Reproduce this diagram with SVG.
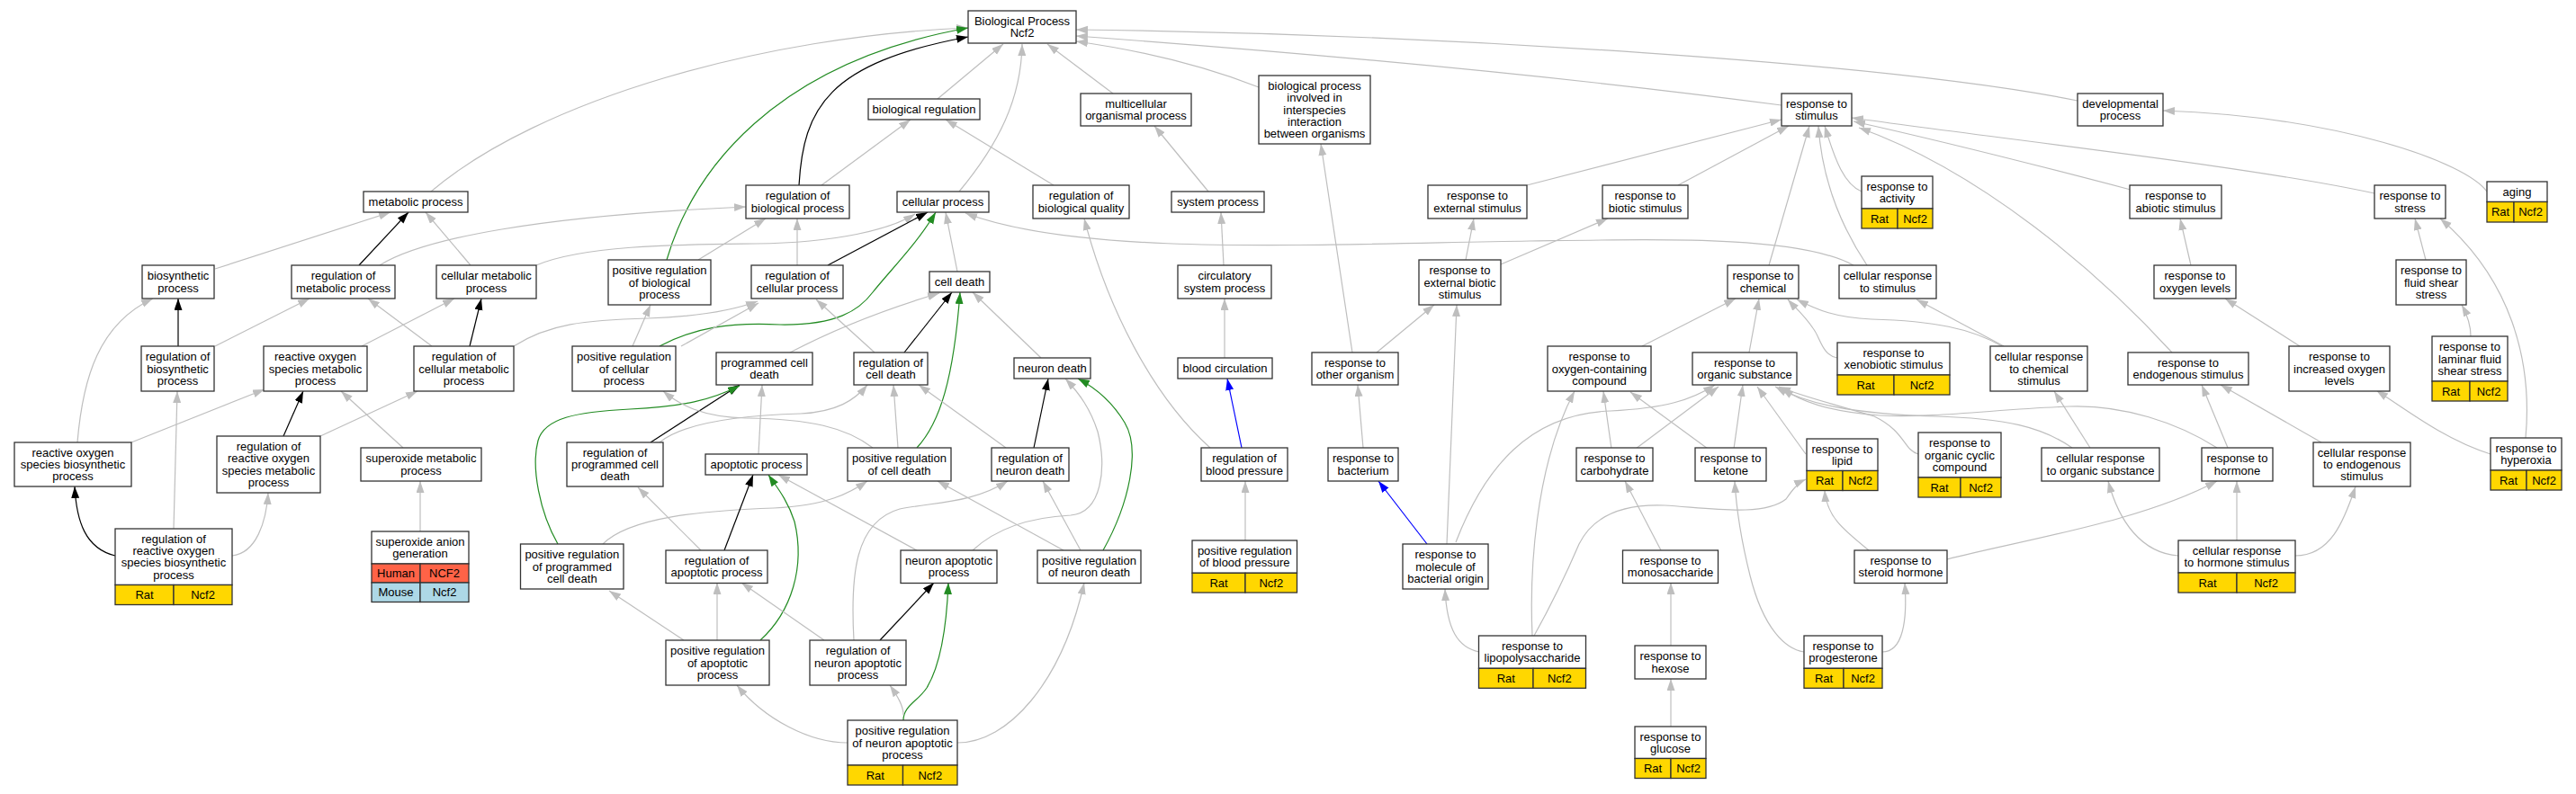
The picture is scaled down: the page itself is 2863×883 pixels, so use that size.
<svg xmlns="http://www.w3.org/2000/svg" width="2863" height="883" viewBox="0 0 2863 883">
<style>
.n rect{fill:#fff;stroke:#333;stroke-width:1.3}
.n rect.y{fill:#ffd700}
.n rect.h{fill:#ff6347}
.n rect.m{fill:#add8e6}
text{font-family:"Liberation Sans",Arial,sans-serif;font-size:13px;text-anchor:middle;fill:#000}
.e path{fill:none;stroke-width:1.2}
.e .g{stroke:#bebebe;marker-end:url(#ag)}
.e .k{stroke:#000;marker-end:url(#ak)}
.e .v{stroke:#228b22;marker-end:url(#av)}
.e .b{stroke:#0000ff;marker-end:url(#ab)}
</style>
<defs>
<marker id="ag" markerUnits="userSpaceOnUse" markerWidth="14" markerHeight="10" refX="13" refY="4.5" orient="auto"><path d="M0,0 L13,4.5 L0,9 z" fill="#bebebe"/></marker>
<marker id="ak" markerUnits="userSpaceOnUse" markerWidth="14" markerHeight="10" refX="13" refY="4.5" orient="auto"><path d="M0,0 L13,4.5 L0,9 z" fill="#000"/></marker>
<marker id="av" markerUnits="userSpaceOnUse" markerWidth="14" markerHeight="10" refX="13" refY="4.5" orient="auto"><path d="M0,0 L13,4.5 L0,9 z" fill="#228b22"/></marker>
<marker id="ab" markerUnits="userSpaceOnUse" markerWidth="14" markerHeight="10" refX="13" refY="4.5" orient="auto"><path d="M0,0 L13,4.5 L0,9 z" fill="#0000ff"/></marker>
</defs>
<rect width="2863" height="883" fill="#fff"/>
<g id="edges" class="e">
<path class="g" d="M479,213 C600,110 850,40 1076,31"/>
<path class="v" d="M741,289 C770,190 860,70 1076,31"/>
<path class="k" d="M888,206 C893,120 920,70 1076,41"/>
<path class="g" d="M1042,110 L1115,49"/>
<path class="g" d="M1066,213 C1110,160 1135,110 1136,49"/>
<path class="g" d="M1237,104 L1164,49"/>
<path class="g" d="M1399,97 C1330,70 1260,55 1196,46"/>
<path class="g" d="M2309,112 C2100,70 1600,38 1196,33"/>
<path class="g" d="M1980,117 C1700,80 1400,55 1196,40"/>
<path class="g" d="M913,206 L1012,133"/>
<path class="g" d="M1171,206 L1051,133"/>
<path class="g" d="M1343,213 L1283,140"/>
<path class="g" d="M1360,295 L1357,236"/>
<path class="g" d="M1361,398 L1361,332"/>
<path class="b" d="M1380,498 L1364,421"/>
<path class="g" d="M1345,498 C1280,440 1230,340 1205,243"/>
<path class="g" d="M1384,601 L1384,535"/>
<path class="g" d="M776,289 L851,243"/>
<path class="g" d="M886,295 L886,243"/>
<path class="g" d="M422,295 C470,265 600,240 829,230"/>
<path class="k" d="M399,295 L454,236"/>
<path class="g" d="M239,299 L434,236"/>
<path class="g" d="M523,295 L473,236"/>
<path class="g" d="M596,295 C650,272 760,272 840,271 C930,270 990,255 1017,238"/>
<path class="k" d="M920,295 L1031,236"/>
<path class="v" d="M733,385 C770,365 810,358 867,361 C930,362 955,345 970,325 C990,300 1020,270 1040,236"/>
<path class="g" d="M1064,302 L1051,236"/>
<path class="g" d="M2060,295 C2000,262 1850,266 1700,268 C1450,272 1200,285 1073,237"/>
<path class="k" d="M198,385 L198,332"/>
<path class="g" d="M239,385 L344,332"/>
<path class="g" d="M86,492 C92,420 110,360 170,332"/>
<path class="g" d="M480,385 L409,332"/>
<path class="k" d="M522,385 L535,332"/>
<path class="g" d="M402,385 L505,332"/>
<path class="g" d="M571,385 C610,360 650,356 720,354 C780,352 815,345 842,335"/>
<path class="g" d="M757,385 L843,337"/>
<path class="g" d="M703,385 L723,339"/>
<path class="g" d="M146,492 L294,433"/>
<path class="k" d="M315,485 L337,435"/>
<path class="g" d="M448,498 L379,435"/>
<path class="g" d="M356,485 L464,435"/>
<path class="k" d="M128,618 C95,610 85,580 83,541"/>
<path class="g" d="M193,588 L197,435"/>
<path class="g" d="M258,618 C285,615 296,580 298,548"/>
<path class="g" d="M467,591 L467,535"/>
<path class="g" d="M878,392 C920,370 980,345 1044,326"/>
<path class="k" d="M1005,392 L1058,325"/>
<path class="v" d="M1019,498 C1045,470 1060,420 1067,325"/>
<path class="g" d="M1157,398 L1081,325"/>
<path class="g" d="M972,392 L907,333"/>
<path class="k" d="M723,492 L822,428"/>
<path class="v" d="M620,605 C600,570 590,520 598,490 C605,465 640,458 700,455 C760,452 790,445 822,429"/>
<path class="g" d="M843,505 L847,428"/>
<path class="g" d="M998,498 L993,428"/>
<path class="g" d="M1118,498 L1021,428"/>
<path class="g" d="M733,492 C760,470 820,462 890,460 C930,458 950,445 964,428"/>
<path class="g" d="M970,498 C940,475 900,466 830,465 C780,464 755,450 737,435"/>
<path class="g" d="M670,605 C700,575 780,568 860,565 C920,562 945,548 964,535"/>
<path class="k" d="M805,612 L837,528"/>
<path class="v" d="M845,712 C880,680 895,630 883,580 C875,555 862,540 854,528"/>
<path class="g" d="M1019,612 L865,528"/>
<path class="g" d="M779,612 L709,542"/>
<path class="g" d="M797,712 L797,648"/>
<path class="g" d="M916,712 L824,648"/>
<path class="g" d="M760,712 L677,657"/>
<path class="k" d="M978,712 L1038,648"/>
<path class="v" d="M1004,801 C1004,785 1020,780 1030,765 C1045,740 1052,700 1054,648"/>
<path class="g" d="M1004,795 C1004,785 998,775 989,762"/>
<path class="g" d="M942,826 C900,826 850,800 819,762"/>
<path class="g" d="M1064,826 C1120,826 1180,760 1205,648"/>
<path class="g" d="M949,712 C945,640 950,580 1000,566 C1040,558 1080,560 1120,535"/>
<path class="g" d="M1081,612 C1110,585 1150,575 1190,573 C1225,570 1230,520 1220,480 C1212,455 1200,438 1184,421"/>
<path class="k" d="M1149,498 L1165,421"/>
<path class="v" d="M1226,612 C1255,560 1268,500 1250,470 C1235,445 1215,430 1198,421"/>
<path class="g" d="M1201,612 L1159,535"/>
<path class="g" d="M1182,612 L1042,535"/>
<path class="g" d="M1697,206 L1980,133"/>
<path class="g" d="M1865,206 L1988,140"/>
<path class="g" d="M1966,295 L2011,140"/>
<path class="g" d="M2075,295 C2045,250 2025,200 2021,140"/>
<path class="g" d="M2069,213 C2050,205 2040,180 2028,140"/>
<path class="g" d="M2368,211 C2250,180 2150,155 2060,135"/>
<path class="g" d="M2639,215 C2500,185 2250,158 2058,131"/>
<path class="g" d="M2414,392 C2330,300 2200,190 2066,142"/>
<path class="g" d="M2764,213 C2740,180 2600,130 2404,123"/>
<path class="g" d="M2807,487 C2815,400 2790,310 2712,243"/>
<path class="g" d="M2768,505 C2720,490 2680,460 2641,434"/>
<path class="g" d="M2696,289 L2684,243"/>
<path class="g" d="M2746,374 C2746,360 2742,350 2736,339"/>
<path class="g" d="M2435,295 L2423,243"/>
<path class="g" d="M2556,385 L2473,332"/>
<path class="g" d="M1629,289 L1638,243"/>
<path class="g" d="M1668,294 L1787,243"/>
<path class="g" d="M1530,392 L1594,339"/>
<path class="g" d="M1503,392 L1468,160"/>
<path class="g" d="M1515,498 L1509,428"/>
<path class="b" d="M1586,605 L1532,535"/>
<path class="g" d="M1608,605 L1619,339"/>
<path class="g" d="M1618,603 C1650,520 1700,460 1790,457 C1850,454 1880,445 1906,428"/>
<path class="g" d="M1644,725 C1620,720 1608,700 1606,655"/>
<path class="g" d="M1703,707 C1700,640 1705,520 1750,435"/>
<path class="g" d="M1705,707 C1720,680 1740,640 1755,605 C1770,575 1800,560 1850,562 C1900,565 1960,575 1985,555 C1992,545 1998,537 2007,533"/>
<path class="g" d="M1791,499 L1782,435"/>
<path class="g" d="M1818,499 L1910,430"/>
<path class="g" d="M1898,499 L1812,436"/>
<path class="g" d="M1927,499 L1937,428"/>
<path class="g" d="M2007,505 L1953,430"/>
<path class="g" d="M1846,612 L1806,535"/>
<path class="g" d="M1857,718 L1857,648"/>
<path class="g" d="M1857,808 L1857,755"/>
<path class="g" d="M2005,725 C1985,722 1960,700 1945,640 C1935,600 1930,570 1928,535"/>
<path class="g" d="M2092,725 C2115,725 2120,690 2117,648"/>
<path class="g" d="M2077,612 C2050,590 2030,575 2028,545"/>
<path class="g" d="M2164,622 C2250,600 2380,580 2464,535"/>
<path class="g" d="M1825,385 L1929,332"/>
<path class="g" d="M1944,392 L1955,332"/>
<path class="g" d="M2042,398 C2025,395 2023,375 2015,365 C2005,350 1995,342 1987,333"/>
<path class="g" d="M2225,385 C2190,365 2150,357 2080,355 C2040,353 2020,345 1997,333"/>
<path class="g" d="M2227,385 L2130,333"/>
<path class="g" d="M2132,505 C2115,500 2118,480 2083,463 C2040,450 2000,440 1977,430"/>
<path class="g" d="M2303,498 C2270,475 2230,465 2150,463 C2060,460 2010,450 1973,430"/>
<path class="g" d="M2464,498 C2420,470 2360,450 2300,452 C2220,455 2150,465 2090,462 C2030,458 2000,445 1980,432"/>
<path class="g" d="M2476,498 L2447,428"/>
<path class="g" d="M2580,492 L2468,428"/>
<path class="g" d="M2486,601 L2486,535"/>
<path class="g" d="M2421,618 C2380,615 2355,580 2343,535"/>
<path class="g" d="M2551,618 C2590,618 2605,580 2618,541"/>
<path class="g" d="M2323,498 L2283,435"/>
</g>
<g id="bp" class="n"><rect x="1076" y="12" width="120" height="36"/><text x="1136" y="27.9">Biological Process</text><text x="1136" y="41.2">Ncf2</text></g>
<g id="bioreg" class="n"><rect x="965" y="110" width="124" height="23"/><text x="1027" y="126">biological regulation</text></g>
<g id="multi" class="n"><rect x="1201" y="104" width="123" height="36"/><text x="1262.5" y="119.9">multicellular</text><text x="1262.5" y="133.2">organismal process</text></g>
<g id="inter" class="n"><rect x="1399" y="84" width="124" height="76"/><text x="1461" y="99.9">biological process</text><text x="1461" y="113.2">involved in</text><text x="1461" y="126.5">interspecies</text><text x="1461" y="139.8">interaction</text><text x="1461" y="153.1">between organisms</text></g>
<g id="respstim" class="n"><rect x="1980" y="104" width="78" height="36"/><text x="2019" y="119.9">response to</text><text x="2019" y="133.2">stimulus</text></g>
<g id="devel" class="n"><rect x="2309" y="104" width="95" height="36"/><text x="2356.5" y="119.9">developmental</text><text x="2356.5" y="133.2">process</text></g>
<g id="metab" class="n"><rect x="404" y="213" width="116" height="23"/><text x="462" y="229">metabolic process</text></g>
<g id="regbio" class="n"><rect x="829" y="206" width="115" height="37"/><text x="886.5" y="222.4">regulation of</text><text x="886.5" y="235.7">biological process</text></g>
<g id="cellproc" class="n"><rect x="997" y="213" width="102" height="23"/><text x="1048" y="229">cellular process</text></g>
<g id="regqual" class="n"><rect x="1148" y="206" width="107" height="37"/><text x="1201.5" y="222.4">regulation of</text><text x="1201.5" y="235.7">biological quality</text></g>
<g id="sysproc" class="n"><rect x="1302" y="213" width="103" height="23"/><text x="1353.5" y="229">system process</text></g>
<g id="extstim" class="n"><rect x="1587" y="206" width="110" height="37"/><text x="1642" y="222.4">response to</text><text x="1642" y="235.7">external stimulus</text></g>
<g id="biotic" class="n"><rect x="1781" y="206" width="95" height="37"/><text x="1828.5" y="222.4">response to</text><text x="1828.5" y="235.7">biotic stimulus</text></g>
<g id="activity" class="n"><rect x="2069" y="196" width="79" height="36"/><text x="2108.5" y="211.9">response to</text><text x="2108.5" y="225.2">activity</text><rect class="y" x="2069" y="232" width="40" height="22"/><rect class="y" x="2109" y="232" width="39" height="22"/><text x="2089" y="247.5">Rat</text><text x="2128.5" y="247.5">Ncf2</text></g>
<g id="abiotic" class="n"><rect x="2367" y="206" width="102" height="37"/><text x="2418" y="222.4">response to</text><text x="2418" y="235.7">abiotic stimulus</text></g>
<g id="stress" class="n"><rect x="2639" y="206" width="79" height="37"/><text x="2678.5" y="222.4">response to</text><text x="2678.5" y="235.7">stress</text></g>
<g id="aging" class="n"><rect x="2764" y="202" width="67" height="22.5"/><text x="2797.5" y="217.8">aging</text><rect class="y" x="2764" y="224.5" width="30" height="22.5"/><rect class="y" x="2794" y="224.5" width="37" height="22.5"/><text x="2779" y="240.3">Rat</text><text x="2812.5" y="240.3">Ncf2</text></g>
<g id="biosyn" class="n"><rect x="158" y="295" width="80" height="37"/><text x="198" y="311.4">biosynthetic</text><text x="198" y="324.7">process</text></g>
<g id="regmetab" class="n"><rect x="324" y="295" width="115" height="37"/><text x="381.5" y="311.4">regulation of</text><text x="381.5" y="324.7">metabolic process</text></g>
<g id="cellmetab" class="n"><rect x="485" y="295" width="111" height="37"/><text x="540.5" y="311.4">cellular metabolic</text><text x="540.5" y="324.7">process</text></g>
<g id="posregbio" class="n"><rect x="676" y="289" width="114" height="50"/><text x="733" y="305.2">positive regulation</text><text x="733" y="318.5">of biological</text><text x="733" y="331.8">process</text></g>
<g id="regcell" class="n"><rect x="835" y="295" width="102" height="37"/><text x="886" y="311.4">regulation of</text><text x="886" y="324.7">cellular process</text></g>
<g id="celldeath" class="n"><rect x="1033" y="302" width="67" height="23"/><text x="1066.5" y="318">cell death</text></g>
<g id="circ" class="n"><rect x="1309" y="295" width="104" height="37"/><text x="1361" y="311.4">circulatory</text><text x="1361" y="324.7">system process</text></g>
<g id="extbiotic" class="n"><rect x="1577" y="289" width="91" height="50"/><text x="1622.5" y="305.2">response to</text><text x="1622.5" y="318.5">external biotic</text><text x="1622.5" y="331.8">stimulus</text></g>
<g id="chem" class="n"><rect x="1920" y="295" width="79" height="37"/><text x="1959.5" y="311.4">response to</text><text x="1959.5" y="324.7">chemical</text></g>
<g id="cellstim" class="n"><rect x="2044" y="295" width="108" height="37"/><text x="2098" y="311.4">cellular response</text><text x="2098" y="324.7">to stimulus</text></g>
<g id="oxylev" class="n"><rect x="2394" y="295" width="91" height="37"/><text x="2439.5" y="311.4">response to</text><text x="2439.5" y="324.7">oxygen levels</text></g>
<g id="fluid" class="n"><rect x="2663" y="289" width="78" height="50"/><text x="2702" y="305.2">response to</text><text x="2702" y="318.5">fluid shear</text><text x="2702" y="331.8">stress</text></g>
<g id="regbiosyn" class="n"><rect x="157" y="385" width="81" height="50"/><text x="197.5" y="401.2">regulation of</text><text x="197.5" y="414.5">biosynthetic</text><text x="197.5" y="427.8">process</text></g>
<g id="rosmetab" class="n"><rect x="293" y="385" width="115" height="50"/><text x="350.5" y="401.2">reactive oxygen</text><text x="350.5" y="414.5">species metabolic</text><text x="350.5" y="427.8">process</text></g>
<g id="regcellmetab" class="n"><rect x="460" y="385" width="111" height="50"/><text x="515.5" y="401.2">regulation of</text><text x="515.5" y="414.5">cellular metabolic</text><text x="515.5" y="427.8">process</text></g>
<g id="posregcell" class="n"><rect x="636" y="385" width="115" height="50"/><text x="693.5" y="401.2">positive regulation</text><text x="693.5" y="414.5">of cellular</text><text x="693.5" y="427.8">process</text></g>
<g id="progdeath" class="n"><rect x="796" y="392" width="107" height="36"/><text x="849.5" y="407.9">programmed cell</text><text x="849.5" y="421.2">death</text></g>
<g id="regdeath" class="n"><rect x="949" y="392" width="82" height="36"/><text x="990" y="407.9">regulation of</text><text x="990" y="421.2">cell death</text></g>
<g id="neurondeath" class="n"><rect x="1127" y="398" width="85" height="23"/><text x="1169.5" y="414">neuron death</text></g>
<g id="bloodcirc" class="n"><rect x="1309" y="398" width="105" height="23"/><text x="1361.5" y="414">blood circulation</text></g>
<g id="other" class="n"><rect x="1458" y="392" width="96" height="36"/><text x="1506" y="407.9">response to</text><text x="1506" y="421.2">other organism</text></g>
<g id="oxycomp" class="n"><rect x="1720" y="385" width="115" height="50"/><text x="1777.5" y="401.2">response to</text><text x="1777.5" y="414.5">oxygen-containing</text><text x="1777.5" y="427.8">compound</text></g>
<g id="organic" class="n"><rect x="1881" y="392" width="116" height="36"/><text x="1939" y="407.9">response to</text><text x="1939" y="421.2">organic substance</text></g>
<g id="xeno" class="n"><rect x="2042" y="381" width="125" height="36"/><text x="2104.5" y="396.9">response to</text><text x="2104.5" y="410.2">xenobiotic stimulus</text><rect class="y" x="2042" y="417" width="63" height="22"/><rect class="y" x="2105" y="417" width="62" height="22"/><text x="2073.5" y="432.5">Rat</text><text x="2136" y="432.5">Ncf2</text></g>
<g id="cellchem" class="n"><rect x="2212" y="385" width="108" height="50"/><text x="2266" y="401.2">cellular response</text><text x="2266" y="414.5">to chemical</text><text x="2266" y="427.8">stimulus</text></g>
<g id="endog" class="n"><rect x="2365" y="392" width="134" height="36"/><text x="2432" y="407.9">response to</text><text x="2432" y="421.2">endogenous stimulus</text></g>
<g id="incoxy" class="n"><rect x="2544" y="385" width="112" height="50"/><text x="2600" y="401.2">response to</text><text x="2600" y="414.5">increased oxygen</text><text x="2600" y="427.8">levels</text></g>
<g id="laminar" class="n"><rect x="2703" y="374" width="84" height="50"/><text x="2745" y="390.2">response to</text><text x="2745" y="403.5">laminar fluid</text><text x="2745" y="416.8">shear stress</text><rect class="y" x="2703" y="424" width="42" height="22"/><rect class="y" x="2745" y="424" width="42" height="22"/><text x="2724" y="439.5">Rat</text><text x="2766" y="439.5">Ncf2</text></g>
<g id="rosbiosyn" class="n"><rect x="16" y="492" width="130" height="49"/><text x="81" y="507.7">reactive oxygen</text><text x="81" y="521">species biosynthetic</text><text x="81" y="534.3">process</text></g>
<g id="regrosmetab" class="n"><rect x="241" y="485" width="115" height="63"/><text x="298.5" y="501.1">regulation of</text><text x="298.5" y="514.4">reactive oxygen</text><text x="298.5" y="527.7">species metabolic</text><text x="298.5" y="541">process</text></g>
<g id="superox" class="n"><rect x="401" y="498" width="134" height="37"/><text x="468" y="514.4">superoxide metabolic</text><text x="468" y="527.7">process</text></g>
<g id="regprog" class="n"><rect x="630" y="492" width="107" height="49"/><text x="683.5" y="507.7">regulation of</text><text x="683.5" y="521">programmed cell</text><text x="683.5" y="534.3">death</text></g>
<g id="apop" class="n"><rect x="784" y="505" width="113" height="23"/><text x="840.5" y="521">apoptotic process</text></g>
<g id="posregdeath" class="n"><rect x="942" y="498" width="115" height="37"/><text x="999.5" y="514.4">positive regulation</text><text x="999.5" y="527.7">of cell death</text></g>
<g id="regneurond" class="n"><rect x="1102" y="498" width="86" height="37"/><text x="1145" y="514.4">regulation of</text><text x="1145" y="527.7">neuron death</text></g>
<g id="regbp" class="n"><rect x="1335" y="498" width="96" height="37"/><text x="1383" y="514.4">regulation of</text><text x="1383" y="527.7">blood pressure</text></g>
<g id="bacterium" class="n"><rect x="1476" y="498" width="78" height="37"/><text x="1515" y="514.4">response to</text><text x="1515" y="527.7">bacterium</text></g>
<g id="carb" class="n"><rect x="1752" y="498" width="85" height="37"/><text x="1794.5" y="514.4">response to</text><text x="1794.5" y="527.7">carbohydrate</text></g>
<g id="ketone" class="n"><rect x="1884" y="498" width="79" height="37"/><text x="1923.5" y="514.4">response to</text><text x="1923.5" y="527.7">ketone</text></g>
<g id="lipid" class="n"><rect x="2008" y="488" width="79" height="35.5"/><text x="2047.5" y="503.6">response to</text><text x="2047.5" y="516.9">lipid</text><rect class="y" x="2008" y="523.5" width="40" height="22"/><rect class="y" x="2048" y="523.5" width="39" height="22"/><text x="2028" y="539">Rat</text><text x="2067.5" y="539">Ncf2</text></g>
<g id="orgcyclic" class="n"><rect x="2132" y="481" width="92" height="50"/><text x="2178" y="497.2">response to</text><text x="2178" y="510.5">organic cyclic</text><text x="2178" y="523.8">compound</text><rect class="y" x="2132" y="531" width="47" height="22"/><rect class="y" x="2179" y="531" width="45" height="22"/><text x="2155.5" y="546.5">Rat</text><text x="2201.5" y="546.5">Ncf2</text></g>
<g id="cellorg" class="n"><rect x="2269" y="498" width="131" height="37"/><text x="2334.5" y="514.4">cellular response</text><text x="2334.5" y="527.7">to organic substance</text></g>
<g id="hormone" class="n"><rect x="2447" y="498" width="79" height="37"/><text x="2486.5" y="514.4">response to</text><text x="2486.5" y="527.7">hormone</text></g>
<g id="cellendog" class="n"><rect x="2571" y="492" width="108" height="49"/><text x="2625" y="507.7">cellular response</text><text x="2625" y="521">to endogenous</text><text x="2625" y="534.3">stimulus</text></g>
<g id="hyperoxia" class="n"><rect x="2768" y="487" width="79" height="36"/><text x="2807.5" y="502.9">response to</text><text x="2807.5" y="516.2">hyperoxia</text><rect class="y" x="2768" y="523" width="40" height="22"/><rect class="y" x="2808" y="523" width="39" height="22"/><text x="2788" y="538.5">Rat</text><text x="2827.5" y="538.5">Ncf2</text></g>
<g id="regrosbiosyn" class="n"><rect x="128" y="588" width="130" height="62.5"/><text x="193" y="603.8">regulation of</text><text x="193" y="617.1">reactive oxygen</text><text x="193" y="630.4">species biosynthetic</text><text x="193" y="643.7">process</text><rect class="y" x="128" y="650.5" width="65" height="22"/><rect class="y" x="193" y="650.5" width="65" height="22"/><text x="160.5" y="666">Rat</text><text x="225.5" y="666">Ncf2</text></g>
<g id="superanion" class="n"><rect x="413" y="591" width="108" height="36"/><text x="467" y="606.9">superoxide anion</text><text x="467" y="620.2">generation</text><rect class="h" x="413" y="627" width="54" height="21"/><rect class="h" x="467" y="627" width="54" height="21"/><text x="440" y="642">Human</text><text x="494" y="642">NCF2</text><rect class="m" x="413" y="648" width="54" height="21.5"/><rect class="m" x="467" y="648" width="54" height="21.5"/><text x="440" y="663.3">Mouse</text><text x="494" y="663.3">Ncf2</text></g>
<g id="posregprog" class="n"><rect x="578.5" y="605" width="114.5" height="50"/><text x="635.8" y="621.2">positive regulation</text><text x="635.8" y="634.5">of programmed</text><text x="635.8" y="647.8">cell death</text></g>
<g id="regapop" class="n"><rect x="740" y="612" width="113" height="36.5"/><text x="796.5" y="628.1">regulation of</text><text x="796.5" y="641.4">apoptotic process</text></g>
<g id="neuronapop" class="n"><rect x="1001" y="612" width="107" height="36.5"/><text x="1054.5" y="628.1">neuron apoptotic</text><text x="1054.5" y="641.4">process</text></g>
<g id="posregneurond" class="n"><rect x="1153" y="612" width="115" height="36.5"/><text x="1210.5" y="628.1">positive regulation</text><text x="1210.5" y="641.4">of neuron death</text></g>
<g id="posregbp" class="n"><rect x="1325" y="601" width="116.5" height="36.3"/><text x="1383.3" y="617">positive regulation</text><text x="1383.3" y="630.3">of blood pressure</text><rect class="y" x="1325" y="637.3" width="59" height="21.7"/><rect class="y" x="1384" y="637.3" width="57.5" height="21.7"/><text x="1354.5" y="652.7">Rat</text><text x="1412.8" y="652.7">Ncf2</text></g>
<g id="molbact" class="n"><rect x="1559" y="605" width="95" height="50"/><text x="1606.5" y="621.2">response to</text><text x="1606.5" y="634.5">molecule of</text><text x="1606.5" y="647.8">bacterial origin</text></g>
<g id="monosac" class="n"><rect x="1803.5" y="612" width="106" height="36.5"/><text x="1856.5" y="628.1">response to</text><text x="1856.5" y="641.4">monosaccharide</text></g>
<g id="steroid" class="n"><rect x="2061" y="612" width="103" height="36.5"/><text x="2112.5" y="628.1">response to</text><text x="2112.5" y="641.4">steroid hormone</text></g>
<g id="cellhorm" class="n"><rect x="2421" y="601" width="130" height="36"/><text x="2486" y="616.9">cellular response</text><text x="2486" y="630.2">to hormone stimulus</text><rect class="y" x="2421" y="637" width="65" height="22"/><rect class="y" x="2486" y="637" width="65" height="22"/><text x="2453.5" y="652.5">Rat</text><text x="2518.5" y="652.5">Ncf2</text></g>
<g id="posregapop" class="n"><rect x="740" y="712" width="115" height="50"/><text x="797.5" y="728.2">positive regulation</text><text x="797.5" y="741.5">of apoptotic</text><text x="797.5" y="754.8">process</text></g>
<g id="regneuronapop" class="n"><rect x="900" y="712" width="107" height="50"/><text x="953.5" y="728.2">regulation of</text><text x="953.5" y="741.5">neuron apoptotic</text><text x="953.5" y="754.8">process</text></g>
<g id="lps" class="n"><rect x="1643.5" y="707" width="119" height="36.3"/><text x="1703" y="723">response to</text><text x="1703" y="736.3">lipopolysaccharide</text><rect class="y" x="1643.5" y="743.3" width="60.5" height="22"/><rect class="y" x="1704" y="743.3" width="58.5" height="22"/><text x="1673.8" y="758.8">Rat</text><text x="1733.3" y="758.8">Ncf2</text></g>
<g id="hexose" class="n"><rect x="1817" y="718" width="79" height="37"/><text x="1856.5" y="734.4">response to</text><text x="1856.5" y="747.7">hexose</text></g>
<g id="progest" class="n"><rect x="2005" y="707" width="87" height="36.3"/><text x="2048.5" y="723">response to</text><text x="2048.5" y="736.3">progesterone</text><rect class="y" x="2005" y="743.3" width="44" height="22"/><rect class="y" x="2049" y="743.3" width="43" height="22"/><text x="2027" y="758.8">Rat</text><text x="2070.5" y="758.8">Ncf2</text></g>
<g id="posregneuronapop" class="n"><rect x="942" y="801" width="122" height="50"/><text x="1003" y="817.2">positive regulation</text><text x="1003" y="830.5">of neuron apoptotic</text><text x="1003" y="843.8">process</text><rect class="y" x="942" y="851" width="61.5" height="22"/><rect class="y" x="1003.5" y="851" width="60.5" height="22"/><text x="972.8" y="866.5">Rat</text><text x="1033.8" y="866.5">Ncf2</text></g>
<g id="glucose" class="n"><rect x="1817" y="808" width="79" height="35.5"/><text x="1856.5" y="823.6">response to</text><text x="1856.5" y="836.9">glucose</text><rect class="y" x="1817" y="843.5" width="40" height="22"/><rect class="y" x="1857" y="843.5" width="39" height="22"/><text x="1837" y="859">Rat</text><text x="1876.5" y="859">Ncf2</text></g>
</svg>
